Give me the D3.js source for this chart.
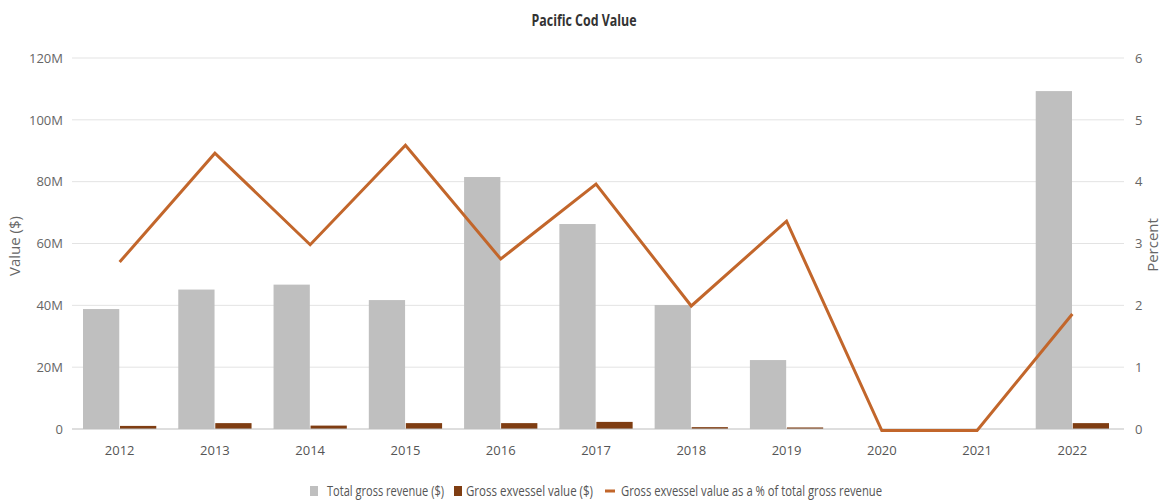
<!DOCTYPE html>
<html>
<head>
<meta charset="utf-8">
<script src="https://cdn.jsdelivr.net/npm/d3@7"></script>
<style>
  body { margin: 0; background: #fff; }
  text { font-family: "Open Sans", sans-serif; }
</style>
</head>
<body>
<div id="chart-area"></div>
<script>
var years = ["2012","2013","2014","2015","2016","2017","2018","2019","2020","2021","2022"];
var totalRevenue = [38.8, 45.1, 46.7, 41.7, 81.5, 66.3, 40.1, 22.3, 0, 0, 109.3]; // millions $
var exvesselValue = [1.0, 1.9, 1.1, 1.9, 1.9, 2.3, 0.6, 0.5, 0, 0, 1.9];       // millions $
var exvesselPct = [2.70, 4.46, 2.98, 4.59, 2.75, 3.96, 1.99, 3.36, 0, 0, 1.86];
var leftTicks = [0, 20, 40, 60, 80, 100, 120];
var rightTicks = [0, 1, 2, 3, 4, 5, 6];

var margin = { left: 72, right: 43, top: 58, bottom: 74 };
var width = 1163 - margin.left - margin.right,
    height = 503 - margin.top - margin.bottom;

var svg = d3.select("#chart-area")
    .append("svg")
        .attr("width", 1163)
        .attr("height", 503);

var g = svg.append("g")
    .attr("transform", "translate(" + margin.left + ", " + margin.top + ")");

var x = d3.scaleBand().domain(years).range([0, width]);
var x1 = d3.scaleBand().domain(["total", "exv"]).range([11, x.bandwidth() - 11]).paddingInner(0.02);
var yL = d3.scaleLinear().domain([0, 120]).range([height, 0]);
var yR = d3.scaleLinear().domain([0, 6]).range([height, 0]);

// gridlines
g.append("g")
    .selectAll("line")
    .data(leftTicks.slice(1))
    .enter().append("line")
        .attr("x1", 0)
        .attr("x2", width + 4)
        .attr("y1", function(d) { return yL(d); })
        .attr("y2", function(d) { return yL(d); })
        .attr("stroke", "#e3e3e3")
        .attr("stroke-width", 1);

// left axis labels
var yAxisL = d3.axisLeft(yL).tickValues(leftTicks).tickSize(0).tickPadding(9)
    .tickFormat(function(d) { return d === 0 ? "0" : d + "M"; });
g.append("g").attr("class", "y-axis").call(yAxisL)
    .call(function(s) { s.select(".domain").remove(); })
    .selectAll("text")
        .attr("fill", "#666")
        .attr("font-size", "13px");

// right axis labels
var yAxisR = d3.axisRight(yR).tickValues(rightTicks).tickSize(0).tickPadding(15)
    .tickFormat(d3.format("d"));
g.append("g").attr("transform", "translate(" + width + ",0)").call(yAxisR)
    .call(function(s) { s.select(".domain").remove(); })
    .selectAll("text")
        .attr("fill", "#666")
        .attr("font-size", "13px");

// bars
var groups = g.selectAll(".year")
    .data(years)
    .enter().append("g")
        .attr("transform", function(d) { return "translate(" + x(d) + ",0)"; });

groups.append("rect")
    .attr("x", x1("total"))
    .attr("width", x1.bandwidth())
    .attr("y", function(d, i) { return yL(totalRevenue[i]); })
    .attr("height", function(d, i) { return height - yL(totalRevenue[i]); })
    .attr("fill", "#bfbfbf");

groups.append("rect")
    .attr("x", x1("exv"))
    .attr("width", x1.bandwidth())
    .attr("y", function(d, i) { return yL(exvesselValue[i]); })
    .attr("height", function(d, i) { return height - yL(exvesselValue[i]); })
    .attr("fill", "#7f3d12");

// zero axis line
g.append("line")
    .attr("x1", 0).attr("x2", width + 4)
    .attr("y1", height).attr("y2", height)
    .attr("stroke", "#bdbdbd");

// x axis labels
var xAxis = d3.axisBottom(x).tickSize(0).tickPadding(17);
g.append("g").attr("class", "x axis")
    .attr("transform", "translate(0," + height + ")")
    .call(xAxis)
    .call(function(s) { s.select(".domain").remove(); })
    .selectAll("text")
        .attr("fill", "#555")
        .attr("font-size", "13px");

// percent line
var line = d3.line()
    .x(function(d, i) { return x(years[i]) + x.bandwidth() / 2; })
    .y(function(d) { return yR(d) + (d === 0 ? 1.5 : 0); });

g.append("path")
    .attr("d", line(exvesselPct))
    .attr("fill", "none")
    .attr("stroke", "#c2662b")
    .attr("stroke-width", 3)
    .attr("stroke-linejoin", "miter");

// title
svg.append("text")
    .attr("x", 584)
    .attr("y", 26)
    .attr("text-anchor", "middle")
    .attr("font-size", "16px")
    .attr("font-weight", "bold")
    .attr("fill", "#333")
    .attr("textLength", 105)
    .attr("lengthAdjust", "spacingAndGlyphs")
    .text("Pacific Cod Value");

// axis titles
svg.append("text")
    .attr("transform", "translate(20,246) rotate(-90)")
    .attr("text-anchor", "middle")
    .attr("font-size", "15px")
    .attr("fill", "#666")
    .text("Value ($)");

svg.append("text")
    .attr("transform", "translate(1158,245) rotate(-90)")
    .attr("text-anchor", "middle")
    .attr("font-size", "15px")
    .attr("fill", "#666")
    .text("Percent");

// legend
var legend = svg.append("g").attr("transform", "translate(0,491)");
var legendItems = [
    { label: "Total gross revenue ($)", color: "#bfbfbf", type: "rect", x: 310, tx: 327, w: 117 },
    { label: "Gross exvessel value ($)", color: "#7f3d12", type: "rect", x: 454, tx: 466, w: 127 },
    { label: "Gross exvessel value as a % of total gross revenue", color: "#c2662b", type: "line", x: 605, tx: 621, w: 261 }
];
legendItems.forEach(function(d) {
    if (d.type === "rect") {
        legend.append("rect").attr("x", d.x).attr("y", -5).attr("width", 8).attr("height", 10).attr("fill", d.color);
    } else {
        legend.append("rect").attr("x", d.x).attr("y", -1.5).attr("width", 10).attr("height", 3).attr("fill", d.color);
    }
    legend.append("text")
        .attr("x", d.tx)
        .attr("y", 5)
        .attr("font-size", "14px")
        .attr("fill", "#555")
        .attr("textLength", d.w)
        .attr("lengthAdjust", "spacingAndGlyphs")
        .text(d.label);
});
</script>
</body>
</html>
